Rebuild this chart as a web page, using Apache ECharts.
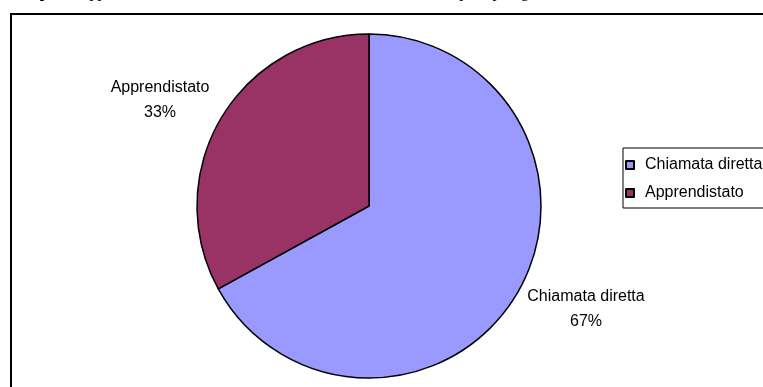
<!DOCTYPE html>
<html>
<head>
<meta charset="utf-8">
<script src="https://cdn.jsdelivr.net/npm/echarts@6/dist/echarts.min.js"></script>
<style>html,body{margin:0;padding:0;background:#fff}#c{width:763px;height:387px}</style>
</head>
<body>
<div id="c"></div>
<script>
var categories = ['Chiamata diretta', 'Apprendistato'];
var values = [67, 33];
var colors = ['#9999FF', '#993366'];
var labelPos = [[586, 309], [160, 100]];

var chart = echarts.init(document.getElementById('c'), null, {renderer: 'canvas'});
var data = categories.map(function (n, i) {
  return {name: n, value: values[i], itemStyle: {color: colors[i]}};
});
chart.setOption({
  animation: false,
  backgroundColor: '#fff',
  graphic: [
    {type: 'rect', shape: {x: 11, y: 14, width: 820, height: 420},
     style: {fill: 'none', stroke: '#000', lineWidth: 2}, z: 0},
    {type: 'text', x: -40, y: -7,
     style: {text: '{b|Graf. 3 – Tipo di} Apprendistato e chiamata diretta sul totale delle assunzioni per tipologia di contratto',
       font: '16px "Liberation Serif"', fill: '#000', verticalAlign: 'middle',
       rich: {b: {font: 'bold 16px "Liberation Serif"', fill: '#000'}}}}
  ],
  legend: {
    orient: 'vertical', left: 623, top: 148,
    data: categories,
    icon: 'rect', itemWidth: 8, itemHeight: 8, itemGap: 10,
    borderColor: '#000', borderWidth: 1, padding: [8, 40, 6, 2],
    formatter: function (n) { return '{g|}' + n; },
    textStyle: {fontFamily: 'Liberation Sans', fontSize: 16, color: '#000', lineHeight: 18,
      rich: {g: {width: 6}}}
  },
  series: [{
    type: 'pie',
    center: [369, 206],
    radius: 172,
    startAngle: 90,
    clockwise: true,
    data: data,
    itemStyle: {borderColor: '#000', borderWidth: 1.5},
    emphasis: {disabled: true},
    label: {show: true, formatter: '{b}\n{d}%', fontFamily: 'Liberation Sans', fontSize: 16,
      color: '#000', lineHeight: 25, align: 'center'},
    labelLine: {show: false},
    labelLayout: function (p) {
      var pos = labelPos[p.dataIndex];
      return {x: pos[0], y: pos[1], align: 'center', verticalAlign: 'middle'};
    }
  }]
});
</script>
</body>
</html>
